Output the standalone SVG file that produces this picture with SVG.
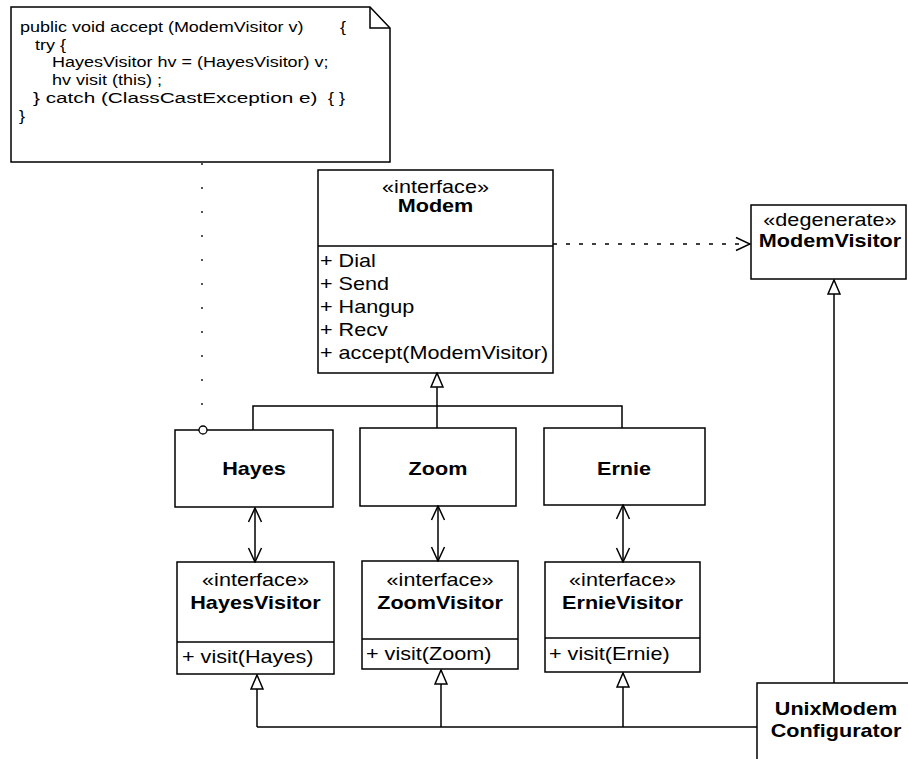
<svg xmlns="http://www.w3.org/2000/svg" width="908" height="759" viewBox="0 0 908 759">
  <style>
    .box { fill: #fff; stroke: #000; stroke-width: 1.5; }
    .ln { fill: none; stroke: #000; stroke-width: 1.5; }
    .dash { fill: none; stroke: #000; stroke-width: 1.4; stroke-dasharray: 4 9; }
    .dot { fill: none; stroke: #000; stroke-width: 1.3; stroke-dasharray: 2 22; }
    text { font-family: "Liberation Sans", Arial, Helvetica, sans-serif; font-size: 18px; fill: #000; }
    .b { font-weight: bold; }
    .c { text-anchor: middle; }
    .code { font-size: 15px; }
  </style>
  <defs>
    <marker id="tri" viewBox="0 0 16 14" refX="15" refY="7" markerWidth="16" markerHeight="14" orient="auto" markerUnits="userSpaceOnUse">
      <path d="M1,1 L15,7 L1,13 Z" fill="#fff" stroke="#000" stroke-width="1.5" stroke-dasharray="none"/>
    </marker>
    <marker id="open" viewBox="0 0 16 16" refX="15" refY="8" markerWidth="16" markerHeight="16" orient="auto-start-reverse" markerUnits="userSpaceOnUse">
      <path d="M1,1.5 L15,8 L1,14.5" fill="none" stroke="#000" stroke-width="1.5" stroke-dasharray="none"/>
    </marker>
  </defs>

  <!-- code note -->
  <g id="note">
    <path class="box" d="M11,7 H370 L390,28 V162 H11 Z"/>
    <path class="ln" d="M370,7 V28 H390"/>
    <text class="code" transform="matrix(1.2 0 0 1 20 32)">public void accept (ModemVisitor v)</text>
    <text class="code" transform="matrix(1.2 0 0 1 340 32)">{</text>
    <text class="code" transform="matrix(1.2 0 0 1 35 50)">try {</text>
    <text class="code" transform="matrix(1.2 0 0 1 52 67)">HayesVisitor hv = (HayesVisitor) v;</text>
    <text class="code" transform="matrix(1.2 0 0 1 52 85)">hv visit (this) ;</text>
    <text class="code" transform="matrix(1.2 0 0 1 33 103)" textLength="237" lengthAdjust="spacingAndGlyphs">} catch (ClassCastException e)</text>
    <text class="code" transform="matrix(1.2 0 0 1 328 103)">{ }</text>
    <text class="code" transform="matrix(1.2 0 0 1 19 121)">}</text>
  </g>

  <!-- Modem interface -->
  <g id="modem">
    <rect class="box" x="318" y="170" width="235" height="203"/>
    <line class="ln" x1="318" y1="246" x2="553" y2="246"/>
    <text class="c" transform="matrix(1.2 0 0 1 435.5 193)">«interface»</text>
    <text class="c b" transform="matrix(1.2 0 0 1 435.5 212)">Modem</text>
    <text transform="matrix(1.2 0 0 1 320 267)">+ Dial</text>
    <text transform="matrix(1.2 0 0 1 320 290)">+ Send</text>
    <text transform="matrix(1.2 0 0 1 320 313)">+ Hangup</text>
    <text transform="matrix(1.2 0 0 1 320 336)">+ Recv</text>
    <text transform="matrix(1.2 0 0 1 320 359)">+ accept(ModemVisitor)</text>
  </g>

  <!-- ModemVisitor -->
  <g id="modemVisitor">
    <rect class="box" x="751" y="205" width="155" height="74"/>
    <text class="c" transform="matrix(1.2 0 0 1 830 226)">«degenerate»</text>
    <text class="c b" transform="matrix(1.2 0 0 1 830 247)">ModemVisitor</text>
  </g>

  <!-- concrete modems -->
  <g id="hayes">
    <rect class="box" x="175" y="430" width="158" height="77"/>
    <text class="c b" transform="matrix(1.2 0 0 1 254 475)">Hayes</text>
  </g>
  <g id="zoom">
    <rect class="box" x="360" y="428" width="156" height="78"/>
    <text class="c b" transform="matrix(1.2 0 0 1 438 475)">Zoom</text>
  </g>
  <g id="ernie">
    <rect class="box" x="544" y="428" width="161" height="77"/>
    <text class="c b" transform="matrix(1.2 0 0 1 624 475)">Ernie</text>
  </g>

  <!-- visitor interfaces -->
  <g id="hayesVisitor">
    <rect class="box" x="177" y="562" width="157" height="112"/>
    <line class="ln" x1="177" y1="642" x2="334" y2="642"/>
    <text class="c" transform="matrix(1.2 0 0 1 255.5 586)">«interface»</text>
    <text class="c b" transform="matrix(1.2 0 0 1 255.5 609)">HayesVisitor</text>
    <text transform="matrix(1.2 0 0 1 182 663)">+ visit(Hayes)</text>
  </g>
  <g id="zoomVisitor">
    <rect class="box" x="362" y="561" width="156" height="108"/>
    <line class="ln" x1="362" y1="639" x2="518" y2="639"/>
    <text class="c" transform="matrix(1.2 0 0 1 440 586)">«interface»</text>
    <text class="c b" transform="matrix(1.2 0 0 1 440 609)">ZoomVisitor</text>
    <text transform="matrix(1.2 0 0 1 366 660)">+ visit(Zoom)</text>
  </g>
  <g id="ernieVisitor">
    <rect class="box" x="545" y="562" width="155" height="110"/>
    <line class="ln" x1="545" y1="638" x2="700" y2="638"/>
    <text class="c" transform="matrix(1.2 0 0 1 622.5 586)">«interface»</text>
    <text class="c b" transform="matrix(1.2 0 0 1 622.5 609)">ErnieVisitor</text>
    <text transform="matrix(1.2 0 0 1 549 660)">+ visit(Ernie)</text>
  </g>

  <!-- configurator -->
  <g id="unixModemConfigurator">
    <rect class="box" x="757" y="683" width="160" height="90"/>
    <text class="c b" transform="matrix(1.2 0 0 1 836 715)">UnixModem</text>
    <text class="c b" transform="matrix(1.2 0 0 1 836 737)">Configurator</text>
  </g>

  <!-- connectors -->
  <g id="connectors">
    <!-- note anchor -->
    <path class="dot" d="M202,163 V426"/>
    <circle cx="203" cy="430" r="4" fill="#fff" stroke="#000" stroke-width="1.3"/>

    <!-- modems realise Modem -->
    <path class="ln" d="M253,430 V406 H622 V428"/>
    <path class="ln" d="M437,428 V373" marker-end="url(#tri)"/>

    <!-- Modem depends on ModemVisitor -->
    <path class="dash" d="M553,244 H750" marker-end="url(#open)"/>

    <!-- modem / visitor associations -->
    <path class="ln" d="M255,508 V562" marker-start="url(#open)" marker-end="url(#open)"/>
    <path class="ln" d="M438,506 V561" marker-start="url(#open)" marker-end="url(#open)"/>
    <path class="ln" d="M623,505 V562" marker-start="url(#open)" marker-end="url(#open)"/>

    <!-- configurator realises the visitors -->
    <path class="ln" d="M257,727 H757"/>
    <path class="ln" d="M257,727 V675" marker-end="url(#tri)"/>
    <path class="ln" d="M441,727 V670" marker-end="url(#tri)"/>
    <path class="ln" d="M623,727 V673" marker-end="url(#tri)"/>
    <path class="ln" d="M834,683 V280" marker-end="url(#tri)"/>
  </g>
</svg>
